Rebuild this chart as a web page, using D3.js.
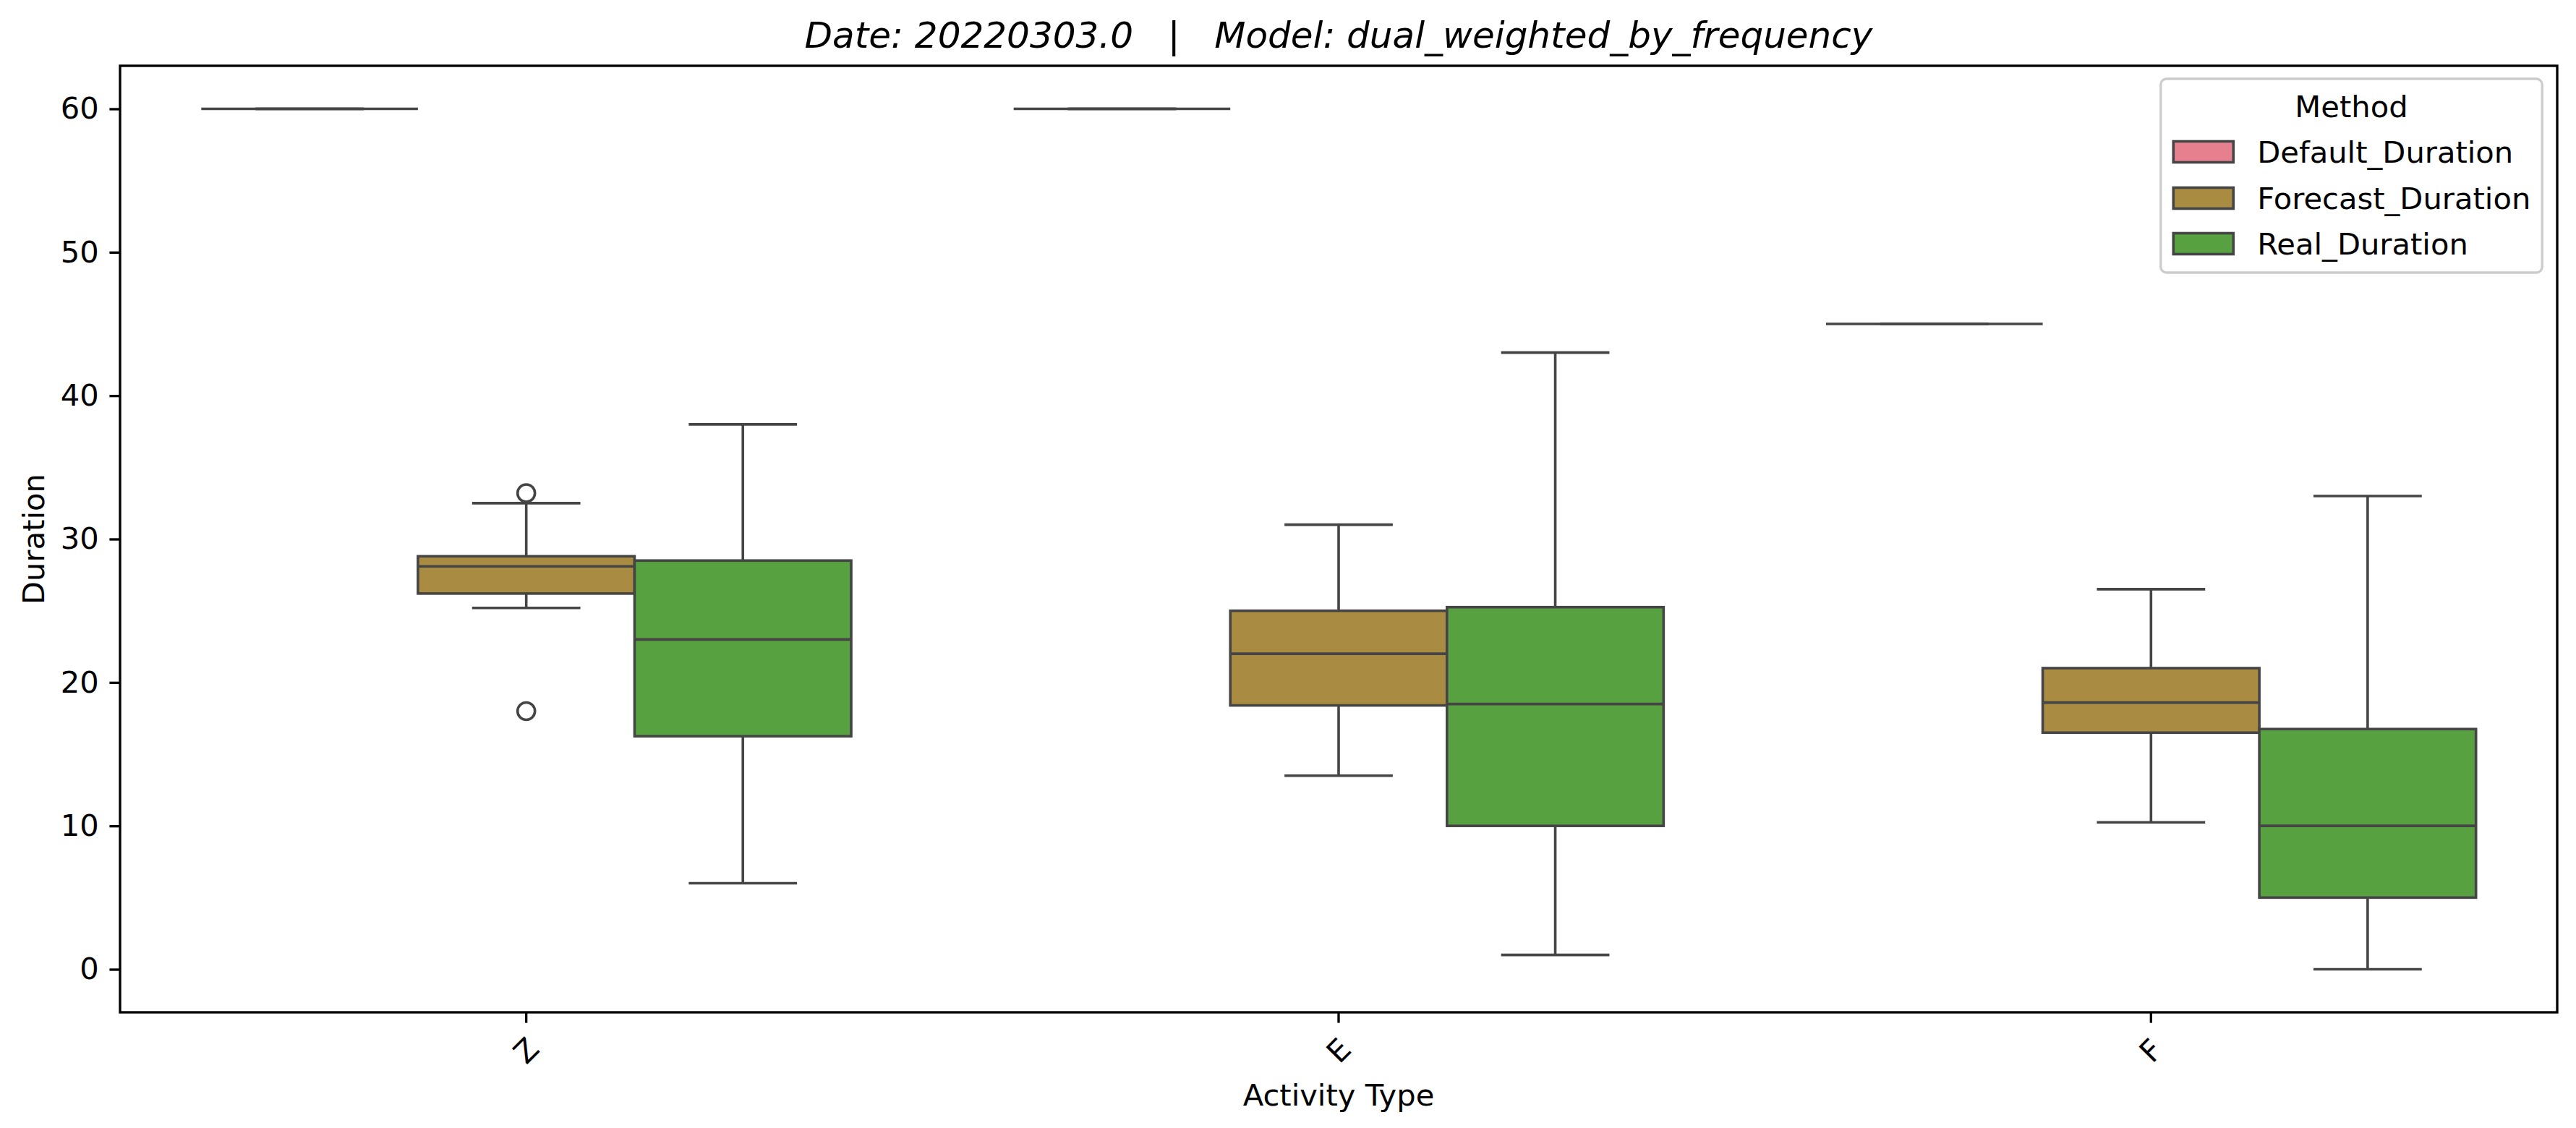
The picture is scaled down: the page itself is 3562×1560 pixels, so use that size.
<!DOCTYPE html>
<html>
<head>
<meta charset="utf-8">
<script src="https://cdn.jsdelivr.net/npm/d3@7"></script>
<style>
  body { margin: 0; background: #fff; }
  svg { display: block; }
  text { font-family: "DejaVu Sans", sans-serif; fill: #000; }
</style>
</head>
<body>
<svg id="chart" width="3562" height="1560"></svg>
<script>
// data
const categories = ["Z", "E", "F"];
const methods = ["Default_Duration", "Forecast_Duration", "Real_Duration"];
const colors = ["#e6808f", "#a98c42", "#58a141"];
const yTicks = [0, 10, 20, 30, 40, 50, 60];

// [lower whisker, q1, median, q3, upper whisker] per category
const defaultStats = [[60, 60, 60, 60, 60], [60, 60, 60, 60, 60], [45, 45, 45, 45, 45]];
const forecastStats = [[25.2, 26.2, 28.1, 28.8, 32.5], [13.5, 18.4, 22, 25, 31], [10.25, 16.5, 18.6, 21, 26.5]];
const realStats = [[6, 16.25, 23, 28.5, 38], [1, 10, 18.5, 25.25, 43], [0, 5, 10, 16.75, 33]];
const forecastOutliers = [[33.2, 18], [], []];
const realOutliers = [[], [], []];
const defaultOutliers = [[], [], []];

const stats = [defaultStats, forecastStats, realStats];
const outliers = [defaultOutliers, forecastOutliers, realOutliers];

const m = { left: 166, right: 3536, top: 91, bottom: 1400 };
const fs = 41.67;          // 10pt at 300 dpi
const lw = 3.33;           // 0.8pt
const boxLw = 3.6;
const gray = "#454545";

const svg = d3.select("#chart");

const x = d3.scaleBand().domain(categories).range([m.left, m.right]).padding(0);
const bw = x.bandwidth();
const xs = d3.scaleBand().domain(methods).range([0.1 * bw, 0.9 * bw]).padding(0);
const y = d3.scaleLinear().domain([-3, 63]).range([m.bottom, m.top]);

// boxes
const boxes = [];
methods.forEach((meth, mi) => {
  categories.forEach((cat, ci) => {
    const s = stats[mi][ci];
    boxes.push({ meth, cat, mi, lo: s[0], q1: s[1], med: s[2], q3: s[3], hi: s[4], out: outliers[mi][ci] });
  });
});

const g = svg.append("g");
const box = g.selectAll("g.box").data(boxes).enter().append("g").attr("class", "box");
const bx0 = d => x(d.cat) + xs(d.meth);
const bxc = d => bx0(d) + xs.bandwidth() / 2;
const capW = xs.bandwidth() / 4;

// whiskers
box.append("line")
  .attr("x1", bxc).attr("x2", bxc)
  .attr("y1", d => y(d.q3)).attr("y2", d => y(d.hi))
  .attr("stroke", gray).attr("stroke-width", boxLw);
box.append("line")
  .attr("x1", bxc).attr("x2", bxc)
  .attr("y1", d => y(d.q1)).attr("y2", d => y(d.lo))
  .attr("stroke", gray).attr("stroke-width", boxLw);
box.selectAll("line.cap").data(d => [d.lo, d.hi].map(v => ({ v, d }))).enter().append("line")
  .attr("class", "cap")
  .attr("x1", e => bxc(e.d) - capW).attr("x2", e => bxc(e.d) + capW)
  .attr("y1", e => y(e.v)).attr("y2", e => y(e.v))
  .attr("stroke", gray).attr("stroke-width", boxLw);

box.append("rect")
  .attr("x", bx0)
  .attr("width", xs.bandwidth())
  .attr("y", d => y(d.q3))
  .attr("height", d => y(d.q1) - y(d.q3))
  .attr("fill", d => colors[d.mi])
  .attr("stroke", gray).attr("stroke-width", boxLw);

box.append("line")
  .attr("x1", bx0).attr("x2", d => bx0(d) + xs.bandwidth())
  .attr("y1", d => y(d.med)).attr("y2", d => y(d.med))
  .attr("stroke", gray).attr("stroke-width", boxLw);

box.selectAll("circle").data(d => d.out.map(v => ({ v, d }))).enter().append("circle")
  .attr("cx", e => bxc(e.d)).attr("cy", e => y(e.v))
  .attr("r", 12)
  .attr("fill", "none").attr("stroke", gray).attr("stroke-width", boxLw);

// axes
const yAxis = svg.append("g")
  .attr("transform", `translate(${m.left},0)`)
  .call(d3.axisLeft(y).tickValues(yTicks).tickSize(14.6).tickPadding(14.6));
yAxis.select(".domain").remove();
yAxis.selectAll(".tick line").attr("stroke", "#000").attr("stroke-width", lw);
yAxis.selectAll(".tick text").attr("font-size", fs).attr("font-family", "DejaVu Sans").attr("fill", "#000");

const xAxis = svg.append("g")
  .attr("transform", `translate(0,${m.bottom})`)
  .call(d3.axisBottom(x).tickSize(14.6).tickPadding(14.6));
xAxis.select(".domain").remove();
xAxis.selectAll(".tick line").attr("stroke", "#000").attr("stroke-width", lw);
xAxis.selectAll(".tick text")
  .attr("font-size", fs).attr("font-family", "DejaVu Sans").attr("fill", "#000")
  .attr("y", 0).attr("dy", null)
  .attr("dominant-baseline", "central")
  .attr("transform", "translate(0,53) rotate(-45)");

// spines
svg.append("rect")
  .attr("x", m.left).attr("y", m.top)
  .attr("width", m.right - m.left).attr("height", m.bottom - m.top)
  .attr("fill", "none").attr("stroke", "#000").attr("stroke-width", lw);

// labels
svg.append("text")
  .attr("x", (m.left + m.right) / 2).attr("y", 1529)
  .attr("text-anchor", "middle").attr("font-size", fs)
  .text("Activity Type");
svg.append("text")
  .attr("transform", `translate(61,${(m.top + m.bottom) / 2}) rotate(-90)`)
  .attr("text-anchor", "middle").attr("font-size", fs)
  .text("Duration");
svg.append("text")
  .attr("x", (m.left + m.right) / 2).attr("y", 66)
  .attr("text-anchor", "middle").attr("font-size", 50)
  .attr("font-style", "italic")
  .style("white-space", "pre")
  .text("Date: 20220303.0   |   Model: dual_weighted_by_frequency");

// legend
const leg = svg.append("g");
const legFrame = leg.append("rect");
const legTitle = leg.append("text")
  .attr("text-anchor", "middle").attr("font-size", fs).text("Method");
const rows = leg.selectAll("g.row").data(methods).enter().append("g").attr("class", "row");
rows.append("rect")
  .attr("width", 83).attr("height", 29)
  .attr("fill", (d, i) => colors[i])
  .attr("stroke", gray).attr("stroke-width", boxLw);
rows.append("text")
  .attr("x", 116).attr("y", 15)
  .attr("dominant-baseline", "central")
  .attr("font-size", fs)
  .text(d => d);

let maxW = 0;
rows.selectAll("text").each(function () { maxW = Math.max(maxW, this.getComputedTextLength()); });
const legW = 16.7 * 2 + 116 + maxW;
const legRight = m.right - 20.8;
const legLeft = legRight - legW;
const legTop = 109;
const rowY = [210, 274, 337];
legFrame
  .attr("x", legLeft).attr("y", legTop)
  .attr("width", legW).attr("height", 268)
  .attr("rx", 8).attr("ry", 8)
  .attr("fill", "#fff").attr("fill-opacity", 0.8)
  .attr("stroke", "#cccccc").attr("stroke-width", lw);
legTitle.attr("x", legLeft + legW / 2).attr("y", 147).attr("dominant-baseline", "central");
rows.attr("transform", (d, i) => `translate(${legLeft + 17.5},${rowY[i] - 14.5})`);
</script>
</body>
</html>
